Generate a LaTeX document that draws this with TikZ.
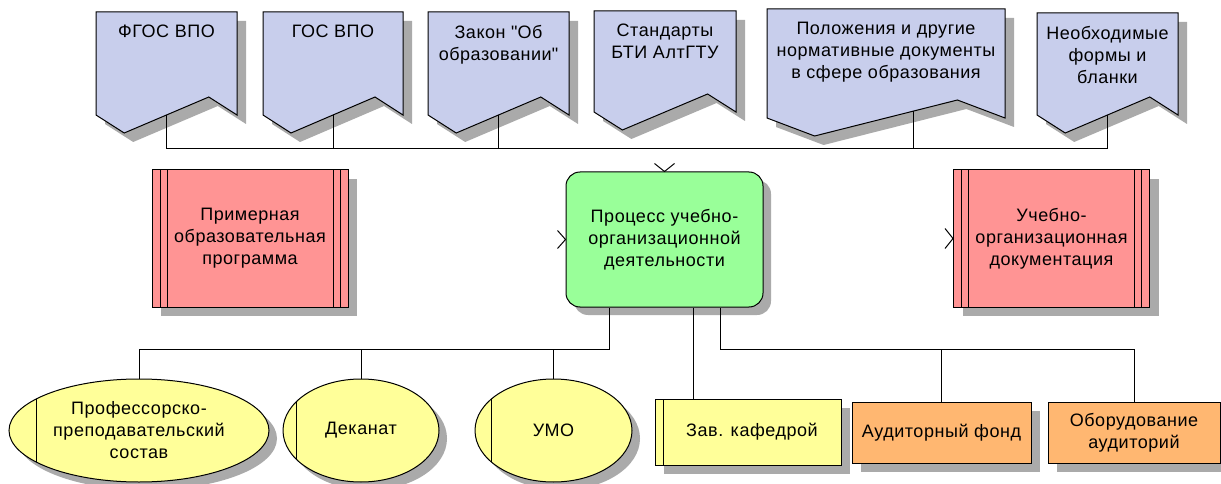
\documentclass[tikz,border=0pt]{standalone}
\usepackage{fontspec}
\setmainfont{Liberation Sans}[LetterSpace=3]
\usetikzlibrary{shapes.geometric,shadows,calc}
\definecolor{docfill}{RGB}{200,206,236}
\definecolor{redfill}{RGB}{255,148,148}
\definecolor{greenfill}{RGB}{153,255,153}
\definecolor{yellfill}{RGB}{255,255,153}
\definecolor{orangefill}{RGB}{255,183,113}
\definecolor{shadowc}{RGB}{170,170,170}
\newcommand\dq{\XeTeXglyph\XeTeXcharglyph"22\relax}
\newcommand\docbox[6]{% name, L, T, R, S, text
  \draw[docline] (#2,#3) -- (#4,#3) -- (#4,#5) -- ({#2+0.8*(#4-#2)},{#5-18}) -- ({#2+0.2*(#4-#2)},{#5+18}) -- (#2,#5) -- cycle;
  \node[txt,anchor=north] (#1) at ({(#2+#4)/2},{#3+13}) {#6};
}
\begin{document}
\begin{tikzpicture}[x=1pt,y=-1pt,
  shad/.style={drop shadow={shadow xshift=#1,shadow yshift=-#1,fill=shadowc,opacity=1,draw=none}},
  txt/.style={font=\fontsize{18}{22}\selectfont,align=center,inner sep=0pt,text=black},
  base/.style={txt,draw=black,line width=1pt},
  docline/.style={draw=black,line width=1pt,fill=docfill,shad=9pt},
  conn/.style={draw=black,line width=1pt},
  chev/.style={draw=black,line width=1pt},
  redbox/.style={base,shad=9pt,fill=redfill,minimum width=196pt,minimum height=137pt,
    path picture={\foreach \o in {8,15}{
      \draw[line width=1pt] ([xshift=\o pt]path picture bounding box.north west) -- ([xshift=\o pt]path picture bounding box.south west);
      \draw[line width=1pt] ([xshift=-\o pt]path picture bounding box.north east) -- ([xshift=-\o pt]path picture bounding box.south east);}}},
  procbox/.style={base,shad=8pt,fill=greenfill,rounded corners=14pt,minimum width=197pt,minimum height=135pt},
  yell/.style={base,shape=ellipse,shad=8pt,fill=yellfill,minimum height=103pt,
    path picture={\draw[line width=1pt] ([xshift=#1]path picture bounding box.north west) -- ([xshift=#1]path picture bounding box.south west);}},
  zavbox/.style={base,shad=9pt,fill=yellfill,minimum width=186pt,minimum height=66pt,
    path picture={\draw[line width=1pt] ([xshift=8pt]path picture bounding box.north west) -- ([xshift=8pt]path picture bounding box.south west);}},
  orbox/.style={base,shad=9pt,fill=orangefill,minimum height=61pt}
]
\useasboundingbox (0,0) rectangle (1221,484);

% top documents
\docbox{d1}{96}{12}{237}{115}{ФГОС ВПО}
\docbox{d2}{263}{12}{403}{115}{ГОС ВПО}
\docbox{d3}{428}{12}{569}{115}{Закон \dq Об\\образовании\dq}
\docbox{d4}{594}{11}{736}{112}{Стандарты\\БТИ АлтГТУ}
\docbox{d5}{767}{9}{1005}{118}{Положения и другие\\нормативные документы\\в сфере образования}
\docbox{d6}{1037}{13}{1178}{115}{Необходимые\\формы и\\бланки}

\coordinate (d1c) at (166.5,115);
\coordinate (d2c) at (333,115);
\coordinate (d3c) at (498.5,115);
\coordinate (d5c) at (913,111.2);
\coordinate (d6c) at (1107.5,115);
\coordinate (tb) at (0,149);

% middle row
\node[redbox] (r1) at (250,238.5) {Примерная\\образовательная\\программа};
\node[procbox] (g) at (664.5,239.5) {Процесс учебно-\\организационной\\деятельности};
\node[redbox] (r2) at (1051.5,238.5) {Учебно-\\организационная\\документация};

% bottom row
\node[yell=27pt,minimum width=260pt] (e1) at (139,430.5) {Профессорско-\\преподавательский\\состав};
\node[yell=13pt,minimum width=156pt] (e2) at (361,430.5) {Деканат};
\node[yell=16pt,minimum width=157pt] (e3) at (553.5,430.5) {УМО};
\node[zavbox] (z) at (748,432) {\hspace*{8pt}Зав. кафедрой};
\node[orbox,minimum width=179pt] (o1) at (941.5,432.5) {Аудиторный фонд};
\node[orbox,minimum width=172pt] (o2) at (1134,432.5) {Оборудование\\аудиторий};

% top bus
\draw[conn] (d1c) -- (d1c |- tb) -- (d6c |- tb) -- (d6c);
\draw[conn] (d2c) -- (d2c |- tb);
\draw[conn] (d3c) -- (d3c |- tb);
\draw[conn] (d5c) -- (d5c |- tb);

% chevrons
\draw[chev] ($(g.north)+(-10,-8)$) -- (g.north) -- ($(g.north)+(10,-8)$);
\draw[chev] ($(g.west)+(-8,-9)$) -- (g.west) -- ($(g.west)+(-8,9)$);
\draw[chev] ($(r2.west)+(-8,-10)$) -- (r2.west) -- ($(r2.west)+(-8,10)$);

% bottom buses
\coordinate (lb) at (609,349);
\coordinate (rb) at (720,349);
\coordinate (zx) at (693,349);
\draw[conn] (g.south -| lb) -- (lb) -- (lb -| e1.north) -- (e1.north);
\draw[conn] (e2.north) -- (e2.north |- lb);
\draw[conn] (e3.north) -- (e3.north |- lb);
\draw[conn] (g.south -| rb) -- (rb) -- (rb -| o2.north) -- (o2.north);
\draw[conn] (o1.north) -- (o1.north |- rb);
\draw[conn] (g.south -| zx) -- (z.north -| zx);
\end{tikzpicture}
\end{document}
